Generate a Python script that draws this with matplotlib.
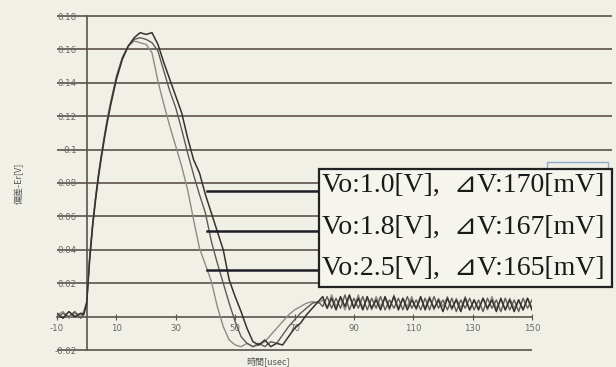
import numpy as np
import matplotlib
matplotlib.use("Agg")
import matplotlib.pyplot as plt
from matplotlib.patches import Rectangle

plt.rcParams['font.family'] = ['DejaVu Sans', 'Noto Sans CJK JP']

# ---------------- data ----------------
time_head = [-10, -8, -6, -4, -2, -1, 0, 1, 2, 3, 4, 5, 6, 7, 8, 9, 10,
             12, 14, 16, 18, 20, 22, 24, 26, 28, 30, 32, 34, 36, 38, 40,
             42, 44, 46, 48, 50, 52, 54, 56, 58, 60, 62, 64, 66, 68, 70,
             72, 74, 76, 78]
time_tail = list(np.arange(79.5, 150.01, 1.5))
time_us = time_head + time_tail

err_v10_head = [0.002, -0.001, 0.003, 0.0, 0.002, 0.001, 0.008, 0.034, 0.054, 0.070, 0.084,
                0.096, 0.107, 0.117, 0.126, 0.134, 0.142, 0.154, 0.162, 0.167, 0.170,
                0.169, 0.170, 0.163, 0.152, 0.142, 0.132, 0.122, 0.107, 0.094, 0.086,
                0.073, 0.062, 0.051, 0.040, 0.022, 0.012, 0.003, -0.007, -0.015, -0.017,
                -0.014, -0.018, -0.016, -0.017, -0.012, -0.007, -0.004, 0.001, 0.005, 0.009]
err_v10_tail = [0.012, 0.005, 0.011, 0.004, 0.012, 0.006, 0.013, 0.005, 0.011, 0.004, 0.012, 0.005,
                0.010, 0.004, 0.012, 0.005, 0.012, 0.004, 0.011, 0.004, 0.010, 0.005, 0.012, 0.004,
                0.011, 0.005, 0.010, 0.003, 0.011, 0.005, 0.010, 0.003, 0.011, 0.004, 0.010, 0.004,
                0.011, 0.005, 0.010, 0.003, 0.011, 0.004, 0.010, 0.003, 0.010, 0.004, 0.011, 0.004]

err_v18_head = [-0.001, 0.002, 0.0, 0.003, -0.001, 0.002, 0.008, 0.035, 0.055, 0.071, 0.085,
                0.097, 0.108, 0.118, 0.127, 0.135, 0.143, 0.155, 0.162, 0.166, 0.167,
                0.166, 0.164, 0.159, 0.147, 0.135, 0.125, 0.112, 0.098, 0.085, 0.073,
                0.062, 0.045, 0.032, 0.020, 0.008, -0.003, -0.012, -0.016, -0.018, -0.016,
                -0.018, -0.015, -0.016, -0.011, -0.006, -0.002, 0.002, 0.005, 0.008, 0.009]
err_v18_tail = [0.006, 0.012, 0.005, 0.011, 0.005, 0.013, 0.004, 0.011, 0.005, 0.012, 0.004, 0.011,
                0.005, 0.012, 0.004, 0.010, 0.005, 0.011, 0.004, 0.012, 0.005, 0.010, 0.004, 0.011,
                0.004, 0.012, 0.005, 0.010, 0.004, 0.011, 0.003, 0.010, 0.005, 0.011, 0.004, 0.010,
                0.003, 0.011, 0.005, 0.010, 0.003, 0.011, 0.004, 0.010, 0.003, 0.011, 0.005, 0.010]

err_v25_head = [0.001, 0.003, -0.001, 0.002, 0.001, 0.003, 0.009, 0.036, 0.056, 0.072, 0.086,
                0.098, 0.109, 0.119, 0.128, 0.136, 0.144, 0.155, 0.162, 0.165, 0.164,
                0.163, 0.158, 0.141, 0.127, 0.114, 0.102, 0.090, 0.076, 0.058, 0.041,
                0.031, 0.021, 0.006, -0.006, -0.014, -0.017, -0.018, -0.016, -0.018, -0.017,
                -0.015, -0.011, -0.007, -0.003, 0.001, 0.004, 0.006, 0.008, 0.009, 0.008]
err_v25_tail = [0.010, 0.005, 0.013, 0.006, 0.011, 0.004, 0.012, 0.006, 0.013, 0.005, 0.011, 0.004,
                0.012, 0.006, 0.011, 0.004, 0.013, 0.005, 0.011, 0.006, 0.012, 0.004, 0.011, 0.005,
                0.012, 0.004, 0.011, 0.006, 0.012, 0.004, 0.011, 0.005, 0.012, 0.004, 0.010, 0.005,
                0.011, 0.004, 0.012, 0.005, 0.010, 0.004, 0.011, 0.005, 0.010, 0.004, 0.011, 0.005]

series_labels = ["Vo:1.0[V],  ⊿V:170[mV]",
                 "Vo:1.8[V],  ⊿V:167[mV]",
                 "Vo:2.5[V],  ⊿V:165[mV]"]
y_ticks = [-0.02, 0.02, 0.04, 0.06, 0.08, 0.10, 0.12, 0.14, 0.16, 0.18]
y_ticklabels = ["-0.02", "0.02", "0.04", "0.06", "0.08", "0.1", "0.12", "0.14", "0.16", "0.18"]
x_ticks = [-10, 10, 30, 50, 70, 90, 110, 130, 150]
x_ticklabels = ["-10", "10", "30", "50", "70", "90", "110", "130", "150"]
x_label = "時間[usec]"
y_label = "偏差-Er[V]"

# ---------------- figure ----------------
W, H = 616, 367
bg = "#f1f0e7"
fig = plt.figure(figsize=(W / 100, H / 100), dpi=100, facecolor=bg)
ax = fig.add_axes([57 / W, 1 - 350 / H, (532 - 57) / W, (350 - 16) / H])
ax.set_facecolor("none")
ax.set_xlim(-10, 150)
ax.set_ylim(-0.02, 0.18)

grid_c = "#675d56"
ax.hlines([t for t in y_ticks if t > 0], -10, 177, colors=grid_c, lw=1.3,
          clip_on=False, zorder=1)
ax.hlines([-0.02], -10, 150, colors=grid_c, lw=1.3, clip_on=False, zorder=1)

# axes lines through zero
for s in ["top", "right"]:
    ax.spines[s].set_visible(False)
ax.spines["left"].set_position(("data", 0))
ax.spines["bottom"].set_position(("data", 0))
ax.spines["left"].set_color("#5a534e")
ax.spines["bottom"].set_color("#5a534e")
ax.spines["left"].set_linewidth(1.2)
ax.spines["bottom"].set_linewidth(1.2)

ax.set_yticks(y_ticks)
ax.set_yticklabels(y_ticklabels)
ax.set_xticks(x_ticks)
ax.set_xticklabels(x_ticklabels)
ax.tick_params(axis="y", length=0, pad=7, labelsize=6.2, labelcolor="#666")
ax.tick_params(axis="x", direction="inout", length=5, width=0.8, color="#5a534e",
               pad=3, labelsize=6.2, labelcolor="#666")

t = np.array(time_us)
ax.plot(t, err_v25_head + err_v25_tail, color="#8d8b86", lw=1.0, zorder=3)
ax.plot(t, err_v18_head + err_v18_tail, color="#5e5b57", lw=1.0, zorder=4)
ax.plot(t, err_v10_head + err_v10_tail, color="#35322f", lw=1.1, zorder=5)

fig.text(268 / W, 1 - 361 / H, x_label, ha="center", va="center", fontsize=6.5,
         color="#555", family=["Noto Sans CJK JP", "DejaVu Sans"])
fig.text(19 / W, 1 - 183 / H, y_label, ha="center", va="center", fontsize=6.5,
         rotation=90, color="#555", family=["Noto Sans CJK JP", "DejaVu Sans"])

# partial legend box behind annotation
fig.patches.append(Rectangle((547 / W, 1 - 176 / H), (608 - 547) / W, 14 / H,
                             transform=fig.transFigure, fill=False,
                             edgecolor="#8fa9c6", lw=1.0, zorder=2))

# annotation box
box = Rectangle((319 / W, 1 - 287 / H), (612 - 319) / W, (287 - 169) / H,
                transform=fig.transFigure, facecolor="#f5f4ed", edgecolor="#222",
                lw=1.6, zorder=10)
fig.patches.append(box)
for lab, yc in zip(series_labels, [185, 227, 268]):
    fig.text(322 / W, 1 - yc / H, lab, ha="left", va="center", fontsize=20,
             color="#1a1a1a", family=["Liberation Serif", "DejaVu Serif", "DejaVu Sans"],
             zorder=11)

# leader lines
for yv in [0.0754, 0.0515, 0.028]:
    ax.plot([40.5, 78.3], [yv, yv], color="#1e1e28", lw=1.8, clip_on=False, zorder=9)

fig.savefig("out.png", dpi=100, facecolor=bg)
